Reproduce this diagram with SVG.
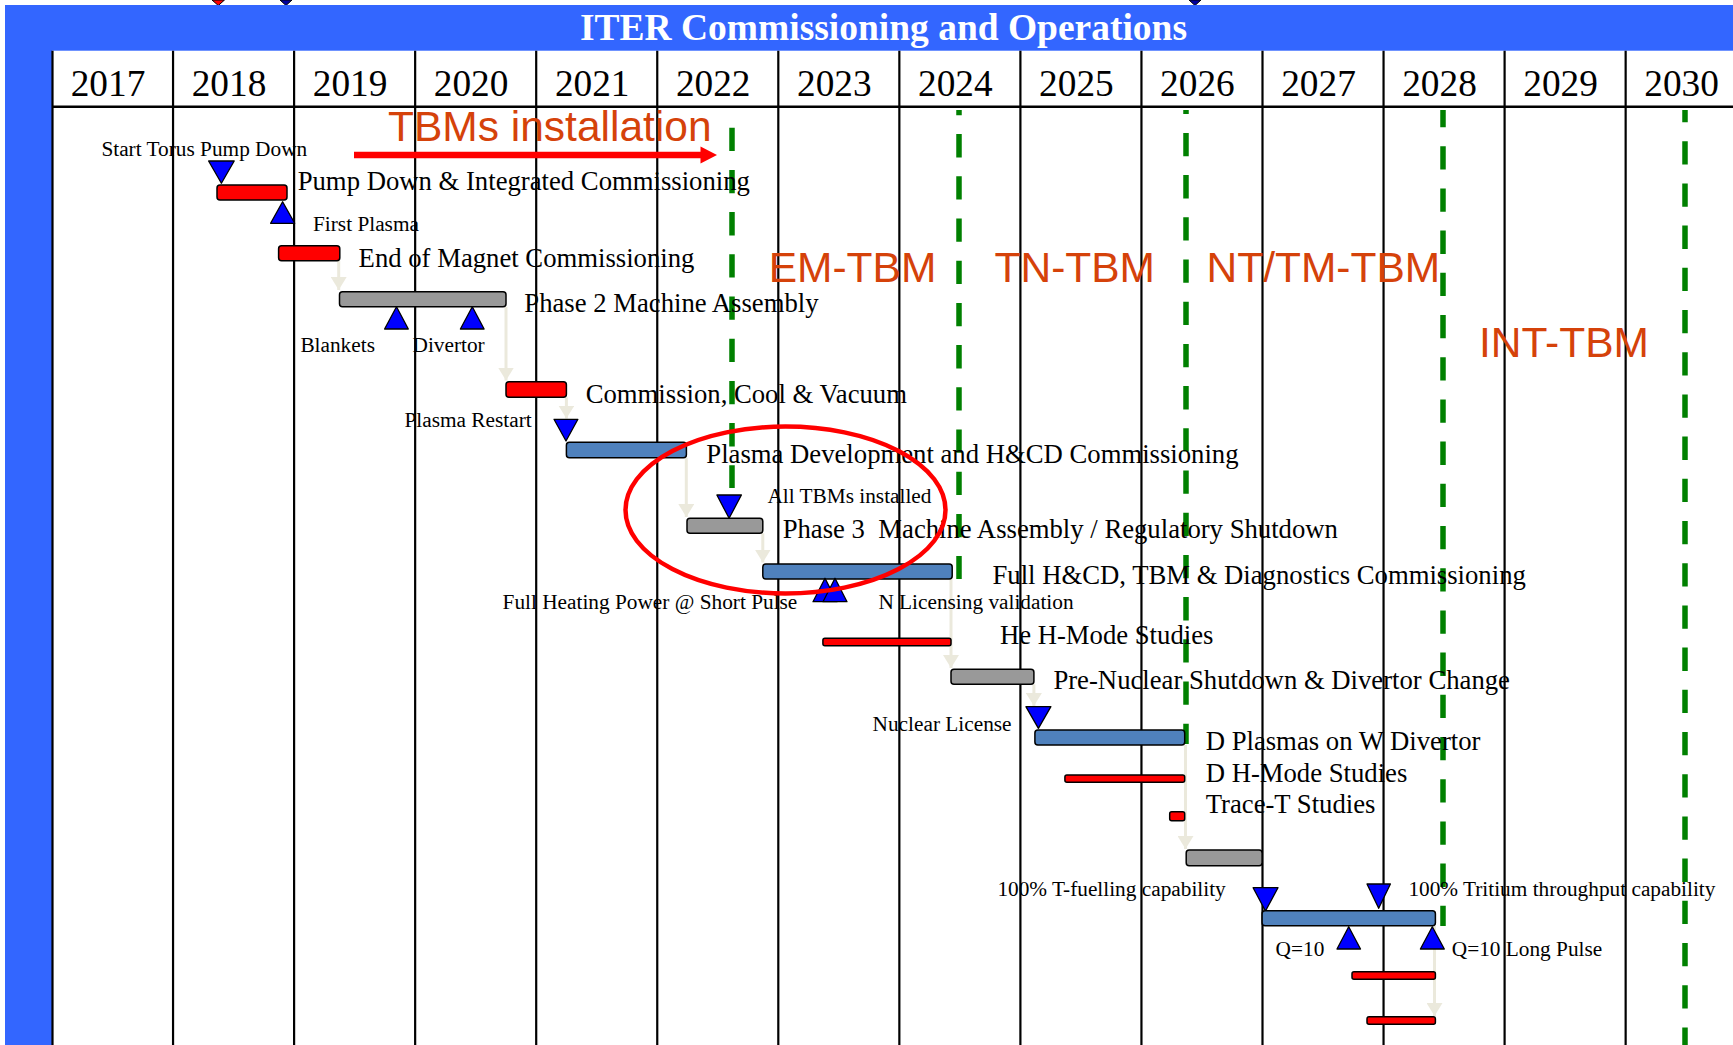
<svg xmlns="http://www.w3.org/2000/svg" width="1733" height="1045" viewBox="0 0 1733 1045">
<defs>
<style>
.yr{font-family:"Liberation Serif","Times New Roman",serif;font-size:37.3px;fill:#000}
.big{font-family:"Liberation Serif","Times New Roman",serif;font-size:26.7px;fill:#000;white-space:pre}
.sm{font-family:"Liberation Serif","Times New Roman",serif;font-size:21.3px;fill:#000}
.tbm{font-family:"Liberation Sans",Arial,sans-serif;font-size:42.5px;fill:#D5420A}
.col{stroke:#000;stroke-width:2.2}
.red{fill:#FF0000;stroke:#000;stroke-width:1.5}
.gray{fill:#999999;stroke:#000;stroke-width:1.5}
.steel{fill:#4F81BD;stroke:#000;stroke-width:1.5}
.ms{fill:#0000FF;stroke:#000;stroke-width:1.3;stroke-linejoin:round}
.conn{stroke:#EBE9DC;stroke-width:3;fill:none}
.green{stroke:#008000;stroke-width:5.5;stroke-dasharray:23.3 18.9;fill:none}
</style>
<marker id="ah" markerUnits="userSpaceOnUse" markerWidth="14" markerHeight="16" refX="13" refY="8" orient="auto">
<path d="M0,0 L13,8 L0,16 z" fill="#EBE9DC"/>
</marker>
</defs>
<rect x="0" y="0" width="1733" height="1045" fill="#fff"/>
<!-- clipped markers at top edge -->
<polygon points="212,0 224.5,0 218.3,5.5" fill="#FF0000" stroke="#000" stroke-width="1"/>
<polygon points="280,0 292,0 286,5.5" fill="#0000A0" stroke="#000" stroke-width="1"/>
<polygon points="1189,0 1201,0 1195,5.5" fill="#0000A0" stroke="#000" stroke-width="1"/>
<!-- frame -->
<rect x="5" y="5" width="1728" height="1040" fill="#3366FF"/>
<rect x="52" y="50.7" width="1681" height="994.3" fill="#fff"/>
<text x="883.5" y="40" text-anchor="middle" font-family="'Liberation Serif','Times New Roman',serif" font-size="37" font-weight="bold" fill="#fff" textLength="607" lengthAdjust="spacingAndGlyphs">ITER Commissioning and Operations</text>
<g id="grid">
<line class="col" x1="52.5" y1="50.7" x2="52.5" y2="1045"/>
<line class="col" x1="173.05" y1="50.7" x2="173.05" y2="1045"/>
<line class="col" x1="294.1" y1="50.7" x2="294.1" y2="1045"/>
<line class="col" x1="415.15" y1="50.7" x2="415.15" y2="1045"/>
<line class="col" x1="536.2" y1="50.7" x2="536.2" y2="1045"/>
<line class="col" x1="657.25" y1="50.7" x2="657.25" y2="1045"/>
<line class="col" x1="778.3" y1="50.7" x2="778.3" y2="1045"/>
<line class="col" x1="899.35" y1="50.7" x2="899.35" y2="1045" stroke-width="2.6"/>
<line class="col" x1="1020.4" y1="50.7" x2="1020.4" y2="1045"/>
<line class="col" x1="1141.45" y1="50.7" x2="1141.45" y2="1045" stroke-width="2.6"/>
<line class="col" x1="1262.5" y1="50.7" x2="1262.5" y2="1045"/>
<line class="col" x1="1383.55" y1="50.7" x2="1383.55" y2="1045"/>
<line class="col" x1="1504.6" y1="50.7" x2="1504.6" y2="1045"/>
<line class="col" x1="1625.65" y1="50.7" x2="1625.65" y2="1045"/>
<line x1="52" y1="106.7" x2="1733" y2="106.7" stroke="#000" stroke-width="2.6"/>
</g>
<g id="years">
<text class="yr" x="70.7" y="95.5">2017</text>
<text class="yr" x="191.7" y="95.5">2018</text>
<text class="yr" x="312.8" y="95.5">2019</text>
<text class="yr" x="433.8" y="95.5">2020</text>
<text class="yr" x="554.9" y="95.5">2021</text>
<text class="yr" x="675.9" y="95.5">2022</text>
<text class="yr" x="797" y="95.5">2023</text>
<text class="yr" x="918" y="95.5">2024</text>
<text class="yr" x="1039.1" y="95.5">2025</text>
<text class="yr" x="1160.1" y="95.5">2026</text>
<text class="yr" x="1281.2" y="95.5">2027</text>
<text class="yr" x="1402.2" y="95.5">2028</text>
<text class="yr" x="1523.3" y="95.5">2029</text>
<text class="yr" x="1644.3" y="95.5">2030</text>
</g>
<g id="tbm-phases">
<line class="green" x1="732" y1="127.7" x2="732" y2="488"/>
<line class="green" x1="959" y1="110" x2="959" y2="579" stroke-dashoffset="18.1"/>
<line class="green" x1="1186" y1="110" x2="1186" y2="744" stroke-dashoffset="19.3"/>
<line class="green" x1="1443" y1="110" x2="1443" y2="926" stroke-dashoffset="6"/>
<line class="green" x1="1685" y1="110" x2="1685" y2="1045" stroke-dashoffset="11"/>
<text class="tbm" x="388" y="140.5">TBMs installation</text>
<line x1="354" y1="155" x2="702" y2="155" stroke="#FF0000" stroke-width="6.5"/>
<polygon points="700.5,146.5 717,155 700.5,163.5" fill="#FF0000"/>
<text class="tbm" x="768.7" y="281.5">EM-TBM</text>
<text class="tbm" x="994.5" y="281.5">TN-TBM</text>
<text class="tbm" x="1206.5" y="281.5">NT/TM-TBM</text>
<text class="tbm" x="1479" y="357">INT-TBM</text>
</g>
<g id="connectors">
<line class="conn" x1="338.7" y1="260.7" x2="338.7" y2="290" marker-end="url(#ah)"/>
<line class="conn" x1="506" y1="306.7" x2="506" y2="380.5" marker-end="url(#ah)"/>
<line class="conn" x1="566.4" y1="397.3" x2="566.4" y2="418.5" marker-end="url(#ah)"/>
<line class="conn" x1="686.3" y1="457.7" x2="686.3" y2="517" marker-end="url(#ah)"/>
<line class="conn" x1="762.8" y1="533.3" x2="762.8" y2="562.5" marker-end="url(#ah)"/>
<line class="conn" x1="951" y1="579" x2="951" y2="668" marker-end="url(#ah)"/>
<line class="conn" x1="1033.9" y1="684.3" x2="1033.9" y2="706" marker-end="url(#ah)"/>
<line class="conn" x1="1185.5" y1="745" x2="1185.5" y2="849" marker-end="url(#ah)"/>
<line class="conn" x1="1434.5" y1="926" x2="1434.5" y2="1016" marker-end="url(#ah)"/>
</g>
<g id="n-start-pump-down">
<polygon class="ms" points="208.6,161 234.2,161 221.4,183.3"/>
<text class="sm" x="101.4" y="155.5">Start Torus Pump Down</text>
</g>
<g id="n-pump-down">
<rect class="red" x="217" y="185" width="70" height="15" rx="3"/>
<text class="big" x="297.7" y="190.3">Pump Down &amp; Integrated Commissioning</text>
</g>
<g id="n-first-plasma">
<polygon class="ms" points="282.6,201.7 294.7,223.3 270.6,223.3"/>
<text class="sm" x="313" y="231.2">First Plasma</text>
</g>
<g id="n-magnet">
<rect class="red" x="278.6" y="245.7" width="61.2" height="15" rx="3"/>
<text class="big" x="358.6" y="266.5">End of Magnet Commissioning</text>
</g>
<g id="n-phase2">
<rect class="gray" x="339.5" y="291.7" width="166.5" height="15" rx="3"/>
<text class="big" x="524.3" y="311.8">Phase 2 Machine Assembly</text>
</g>
<g id="n-blankets">
<polygon class="ms" points="396.5,306.7 408.3,329 384.6,329"/>
<text class="sm" x="300.4" y="351.5">Blankets</text>
</g>
<g id="n-divertor">
<polygon class="ms" points="472.3,306.7 484.1,329 460.4,329"/>
<text class="sm" x="412.5" y="351.5">Divertor</text>
</g>
<g id="n-commission">
<rect class="red" x="506" y="381.7" width="60.4" height="15.6" rx="3"/>
<text class="big" x="585.7" y="402.5">Commission, Cool &amp; Vacuum</text>
</g>
<g id="n-plasma-restart">
<polygon class="ms" points="554,419.3 577.9,419.3 566,441"/>
<text class="sm" x="404.5" y="427.2">Plasma Restart</text>
</g>
<g id="n-plasma-dev">
<rect class="steel" x="566.4" y="442.3" width="120" height="15.4" rx="3"/>
<text class="big" x="706.3" y="462.5">Plasma Development and H&amp;CD Commissioning</text>
</g>
<g id="n-all-tbms">
<polygon class="ms" points="716.9,495 741.4,495 729.1,518.3"/>
<text class="sm" x="767.4" y="503.2">All TBMs installed</text>
</g>
<g id="n-phase3">
<rect class="gray" x="687" y="518.3" width="75.8" height="15" rx="3"/>
<text class="big" x="782.7" y="538">Phase 3  Machine Assembly / Regulatory Shutdown</text>
</g>
<g id="n-full-hcd">
<rect class="steel" x="762.8" y="564" width="189.4" height="15" rx="3"/>
<text class="big" x="992.5" y="583.8">Full H&amp;CD, TBM &amp; Diagnostics Commissioning</text>
</g>
<g id="n-full-heating">
<polygon class="ms" points="825,578.3 837,601.7 813,601.7"/>
<text class="sm" x="502.6" y="608.8" font-size="22.9">Full Heating Power @ Short Pulse</text>
</g>
<g id="n-n-licensing">
<polygon class="ms" points="835,578.3 847,601.7 823,601.7"/>
<text class="sm" x="878.4" y="608.8">N Licensing validation</text>
</g>
<g id="n-he-hmode">
<rect class="red" x="822.9" y="638.3" width="128.1" height="7.4" rx="2"/>
<text class="big" x="999.9" y="644">He H-Mode Studies</text>
</g>
<g id="n-pre-nuclear">
<rect class="gray" x="951" y="669.3" width="82.9" height="15" rx="3"/>
<text class="big" x="1053.4" y="689">Pre-Nuclear Shutdown &amp; Divertor Change</text>
</g>
<g id="n-nuclear-license">
<polygon class="ms" points="1025.9,706.7 1050.9,706.7 1038.4,728.3"/>
<text class="sm" x="872.6" y="730.5">Nuclear License</text>
</g>
<g id="n-d-plasmas">
<rect class="steel" x="1034.9" y="730" width="149.8" height="15" rx="3"/>
<text class="big" x="1205.7" y="750">D Plasmas on W Divertor</text>
</g>
<g id="n-d-hmode">
<rect class="red" x="1064.9" y="775" width="119.8" height="7.3" rx="2"/>
<text class="big" x="1205.7" y="781.7">D H-Mode Studies</text>
</g>
<g id="n-trace-t">
<rect class="red" x="1169.7" y="811.7" width="15" height="9" rx="2"/>
<text class="big" x="1205.7" y="813.4">Trace-T Studies</text>
</g>
<g id="n-gray-2027">
<rect class="gray" x="1186.2" y="850" width="75.9" height="15.7" rx="3"/>
</g>
<g id="n-t-fuelling">
<polygon class="ms" points="1253.1,887.7 1278,887.7 1265.5,911"/>
<text class="sm" x="997.4" y="895.5">100% T-fuelling capability</text>
</g>
<g id="n-tritium">
<polygon class="ms" points="1367,884 1390.4,884 1378.7,908.3"/>
<text class="sm" x="1408.4" y="895.5">100% Tritium throughput capability</text>
</g>
<g id="n-dt-ops">
<rect class="steel" x="1262.1" y="910.7" width="173.3" height="15" rx="3"/>
</g>
<g id="n-q10">
<polygon class="ms" points="1348.7,926.7 1360.5,949 1337,949"/>
<text class="sm" x="1275.6" y="955.5">Q=10</text>
</g>
<g id="n-q10-long">
<polygon class="ms" points="1432.3,926.7 1444.3,949 1420.4,949"/>
<text class="sm" x="1451.8" y="955.5">Q=10 Long Pulse</text>
</g>
<g id="n-red-a">
<rect class="red" x="1352" y="971.7" width="83.4" height="7.6" rx="2"/>
</g>
<g id="n-red-b">
<rect class="red" x="1367" y="1016.7" width="68.4" height="7.6" rx="2"/>
</g>
<ellipse id="highlight" cx="785.5" cy="510" rx="160" ry="83.5" fill="none" stroke="#FF0000" stroke-width="4.5"/>
</svg>
